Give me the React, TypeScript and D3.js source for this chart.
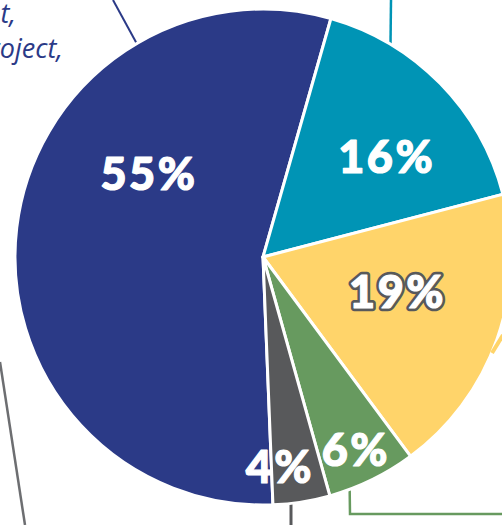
import React from "react";
import * as d3 from "d3";

const categories = ["Navy", "Teal", "Yellow", "Green", "Gray"];
const values = [55, 16.5, 18.9, 5.8, 3.7];
const labels = ["55%", "16%", "19%", "6%", "4%"];
const colors = ["#2b3a87", "#0094b5", "#ffd46a", "#679a5f", "#58595b"];

// label placement (polar, degrees clockwise from 12 o'clock, and radius)
const labelAngles = [306, 51.1, 104.5, 154.3, 175.4];
const labelRadii = [141, 159, 139, 214, 210];

const W = 502;
const H = 525;
const CX = 263;
const CY = 257;
const R = 248;
const START_DEG = 177.7;

export default function App() {
  const rad = (d: number) => (d * Math.PI) / 180;
  const pie = d3
    .pie<number>()
    .sort(null)
    .value((d) => d)
    .startAngle(rad(START_DEG))
    .endAngle(rad(START_DEG) + 2 * Math.PI);
  const arcs = pie(values);
  const arcGen = d3.arc<d3.PieArcDatum<number>>().innerRadius(0).outerRadius(R);

  const polar = (deg: number, r: number): [number, number] => [
    CX + r * Math.sin(rad(deg)),
    CY - r * Math.cos(rad(deg)),
  ];
  const edge = (deg: number) => polar(deg, R - 1);

  const tealEdge = edge((Math.asin((391 - CX) / R) * 180) / Math.PI);
  const grayEdgeAng = 180 - (Math.asin((291 - CX) / R) * 180) / Math.PI;
  const grayEdge = edge(grayEdgeAng);
  const greenEdgeAng = 180 - (Math.asin((350 - CX) / R) * 180) / Math.PI;
  const greenEdge = edge(greenEdgeAng);

  return (
    <svg
      width={W}
      height={H}
      style={{ position: "absolute", left: 0, top: 0, display: "block" }}
    >
      <rect width={W} height={H} fill="#ffffff" />
      {/* leader lines */}
      <line x1={113} y1={0} x2={137} y2={44} stroke="#2b3a87" strokeWidth={2} />
      <line x1={391} y1={0} x2={tealEdge[0]} y2={tealEdge[1]} stroke="#0094b5" strokeWidth={2.5} />
      <line x1={0} y1={362} x2={25} y2={525} stroke="#6d6e71" strokeWidth={2.5} />
      <polyline
        points={`${greenEdge[0]},${greenEdge[1]} 350,514 ${W},514`}
        fill="none"
        stroke="#679a5f"
        strokeWidth={2.5}
      />
      <line x1={291} y1={grayEdge[1]} x2={291} y2={H} stroke="#58595b" strokeWidth={3} />
      <g transform={`translate(${CX},${CY})`}>
        {arcs.map((a, i) => (
          <path
            key={categories[i]}
            d={arcGen(a) || ""}
            fill={colors[i]}
            stroke="#ffffff"
            strokeWidth={3}
            strokeLinejoin="round"
          />
        ))}
      </g>
      <line x1={492} y1={353} x2={503} y2={335} stroke="#ffd46a" strokeWidth={4} />
      {labels.map((l, i) => {
        const [x, y] = polar(labelAngles[i], labelRadii[i]);
        const outlined = i === 2;
        return (
          <g key={l}>
            {outlined && (
              <text
                x={x}
                y={y}
                dy="0.36em"
                textAnchor="middle"
                fontFamily="Lato, 'Open Sans', sans-serif"
                fontWeight={900}
                fontSize={45}
                letterSpacing={2.5}
                fill="#58595b"
                stroke="#58595b"
                strokeWidth={6.5}
                strokeLinejoin="round"
              >
                {l}
              </text>
            )}
            <text
              x={x}
              y={y}
              dy="0.36em"
              textAnchor="middle"
              fontFamily="Lato, 'Open Sans', sans-serif"
              fontWeight={900}
              fontSize={45}
              letterSpacing={2.5}
              fill="#ffffff"
              stroke="#ffffff"
              strokeWidth={1.2}
              strokeLinejoin="round"
            >
              {l}
            </text>
          </g>
        );
      })}
      <g
        fontFamily="'Open Sans', sans-serif"
        fontStyle="italic"
        fontSize={27}
        fill="#2b3a87"
        textAnchor="end"
      >
        <text x={16} y={23}>t,</text>
        <text x={63} y={58}>project,</text>
      </g>
    </svg>
  );
}
